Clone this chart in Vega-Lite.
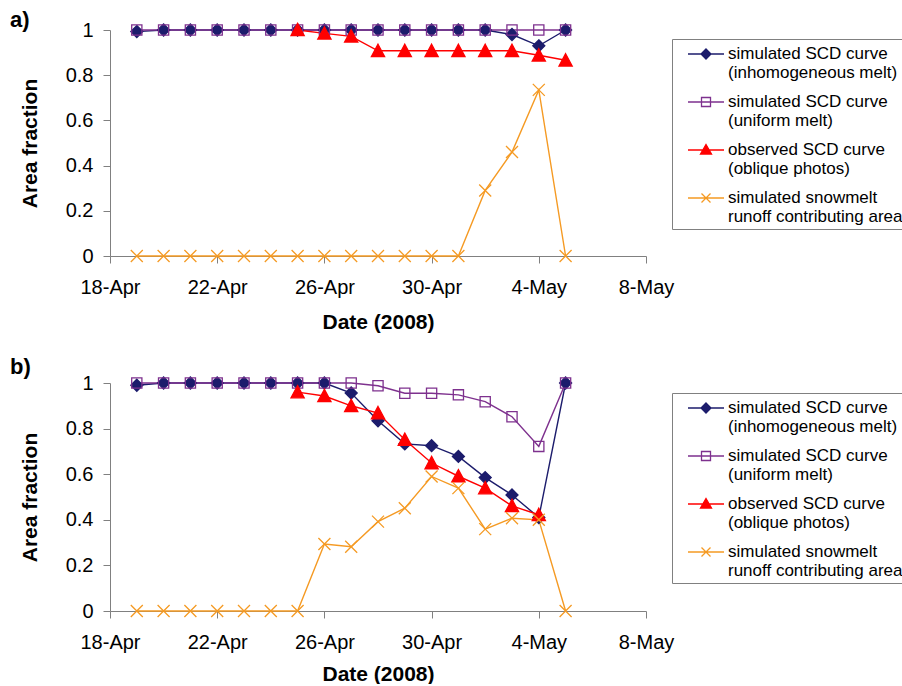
{
  "$schema": "https://vega.github.io/schema/vega-lite/v6.json",
  "padding": {"left": 10, "top": 9, "right": 0, "bottom": 0},
  "background": "white",
  "datasets": {
    "a": [
      {"date":"2008-04-19","series":"inhomogeneous","value":0.993},
      {"date":"2008-04-20","series":"inhomogeneous","value":1},
      {"date":"2008-04-21","series":"inhomogeneous","value":1},
      {"date":"2008-04-22","series":"inhomogeneous","value":1},
      {"date":"2008-04-23","series":"inhomogeneous","value":1},
      {"date":"2008-04-24","series":"inhomogeneous","value":1},
      {"date":"2008-04-25","series":"inhomogeneous","value":1},
      {"date":"2008-04-26","series":"inhomogeneous","value":1},
      {"date":"2008-04-27","series":"inhomogeneous","value":1},
      {"date":"2008-04-28","series":"inhomogeneous","value":1},
      {"date":"2008-04-29","series":"inhomogeneous","value":1},
      {"date":"2008-04-30","series":"inhomogeneous","value":1},
      {"date":"2008-05-01","series":"inhomogeneous","value":1},
      {"date":"2008-05-02","series":"inhomogeneous","value":1},
      {"date":"2008-05-03","series":"inhomogeneous","value":0.98},
      {"date":"2008-05-04","series":"inhomogeneous","value":0.93},
      {"date":"2008-05-05","series":"inhomogeneous","value":1},
      {"date":"2008-04-19","series":"uniform","value":1},
      {"date":"2008-04-20","series":"uniform","value":1},
      {"date":"2008-04-21","series":"uniform","value":1},
      {"date":"2008-04-22","series":"uniform","value":1},
      {"date":"2008-04-23","series":"uniform","value":1},
      {"date":"2008-04-24","series":"uniform","value":1},
      {"date":"2008-04-25","series":"uniform","value":1},
      {"date":"2008-04-26","series":"uniform","value":1},
      {"date":"2008-04-27","series":"uniform","value":1},
      {"date":"2008-04-28","series":"uniform","value":1},
      {"date":"2008-04-29","series":"uniform","value":1},
      {"date":"2008-04-30","series":"uniform","value":1},
      {"date":"2008-05-01","series":"uniform","value":1},
      {"date":"2008-05-02","series":"uniform","value":1},
      {"date":"2008-05-03","series":"uniform","value":1},
      {"date":"2008-05-04","series":"uniform","value":1},
      {"date":"2008-05-05","series":"uniform","value":1},
      {"date":"2008-04-25","series":"observed","value":1},
      {"date":"2008-04-26","series":"observed","value":0.985},
      {"date":"2008-04-27","series":"observed","value":0.972},
      {"date":"2008-04-28","series":"observed","value":0.908},
      {"date":"2008-04-29","series":"observed","value":0.908},
      {"date":"2008-04-30","series":"observed","value":0.908},
      {"date":"2008-05-01","series":"observed","value":0.908},
      {"date":"2008-05-02","series":"observed","value":0.908},
      {"date":"2008-05-03","series":"observed","value":0.908},
      {"date":"2008-05-04","series":"observed","value":0.888},
      {"date":"2008-05-05","series":"observed","value":0.866},
      {"date":"2008-04-19","series":"snowmelt","value":0},
      {"date":"2008-04-20","series":"snowmelt","value":0},
      {"date":"2008-04-21","series":"snowmelt","value":0},
      {"date":"2008-04-22","series":"snowmelt","value":0},
      {"date":"2008-04-23","series":"snowmelt","value":0},
      {"date":"2008-04-24","series":"snowmelt","value":0},
      {"date":"2008-04-25","series":"snowmelt","value":0},
      {"date":"2008-04-26","series":"snowmelt","value":0},
      {"date":"2008-04-27","series":"snowmelt","value":0},
      {"date":"2008-04-28","series":"snowmelt","value":0},
      {"date":"2008-04-29","series":"snowmelt","value":0},
      {"date":"2008-04-30","series":"snowmelt","value":0},
      {"date":"2008-05-01","series":"snowmelt","value":0},
      {"date":"2008-05-02","series":"snowmelt","value":0.29},
      {"date":"2008-05-03","series":"snowmelt","value":0.46},
      {"date":"2008-05-04","series":"snowmelt","value":0.735},
      {"date":"2008-05-05","series":"snowmelt","value":0}
    ],
    "b": [
      {"date":"2008-04-19","series":"inhomogeneous","value":0.99},
      {"date":"2008-04-20","series":"inhomogeneous","value":1},
      {"date":"2008-04-21","series":"inhomogeneous","value":1},
      {"date":"2008-04-22","series":"inhomogeneous","value":1},
      {"date":"2008-04-23","series":"inhomogeneous","value":1},
      {"date":"2008-04-24","series":"inhomogeneous","value":1},
      {"date":"2008-04-25","series":"inhomogeneous","value":1},
      {"date":"2008-04-26","series":"inhomogeneous","value":1},
      {"date":"2008-04-27","series":"inhomogeneous","value":0.956},
      {"date":"2008-04-28","series":"inhomogeneous","value":0.834},
      {"date":"2008-04-29","series":"inhomogeneous","value":0.733},
      {"date":"2008-04-30","series":"inhomogeneous","value":0.725},
      {"date":"2008-05-01","series":"inhomogeneous","value":0.678},
      {"date":"2008-05-02","series":"inhomogeneous","value":0.585},
      {"date":"2008-05-03","series":"inhomogeneous","value":0.509},
      {"date":"2008-05-04","series":"inhomogeneous","value":0.41},
      {"date":"2008-05-05","series":"inhomogeneous","value":1},
      {"date":"2008-04-19","series":"uniform","value":1},
      {"date":"2008-04-20","series":"uniform","value":1},
      {"date":"2008-04-21","series":"uniform","value":1},
      {"date":"2008-04-22","series":"uniform","value":1},
      {"date":"2008-04-23","series":"uniform","value":1},
      {"date":"2008-04-24","series":"uniform","value":1},
      {"date":"2008-04-25","series":"uniform","value":1},
      {"date":"2008-04-26","series":"uniform","value":1},
      {"date":"2008-04-27","series":"uniform","value":1},
      {"date":"2008-04-28","series":"uniform","value":0.988},
      {"date":"2008-04-29","series":"uniform","value":0.955},
      {"date":"2008-04-30","series":"uniform","value":0.955},
      {"date":"2008-05-01","series":"uniform","value":0.948},
      {"date":"2008-05-02","series":"uniform","value":0.918},
      {"date":"2008-05-03","series":"uniform","value":0.852},
      {"date":"2008-05-04","series":"uniform","value":0.722},
      {"date":"2008-05-05","series":"uniform","value":1},
      {"date":"2008-04-25","series":"observed","value":0.96},
      {"date":"2008-04-26","series":"observed","value":0.943},
      {"date":"2008-04-27","series":"observed","value":0.9},
      {"date":"2008-04-28","series":"observed","value":0.868},
      {"date":"2008-04-29","series":"observed","value":0.751},
      {"date":"2008-04-30","series":"observed","value":0.649},
      {"date":"2008-05-01","series":"observed","value":0.591},
      {"date":"2008-05-02","series":"observed","value":0.539},
      {"date":"2008-05-03","series":"observed","value":0.461},
      {"date":"2008-05-04","series":"observed","value":0.422},
      {"date":"2008-04-19","series":"snowmelt","value":0},
      {"date":"2008-04-20","series":"snowmelt","value":0},
      {"date":"2008-04-21","series":"snowmelt","value":0},
      {"date":"2008-04-22","series":"snowmelt","value":0},
      {"date":"2008-04-23","series":"snowmelt","value":0},
      {"date":"2008-04-24","series":"snowmelt","value":0},
      {"date":"2008-04-25","series":"snowmelt","value":0},
      {"date":"2008-04-26","series":"snowmelt","value":0.294},
      {"date":"2008-04-27","series":"snowmelt","value":0.282},
      {"date":"2008-04-28","series":"snowmelt","value":0.392},
      {"date":"2008-04-29","series":"snowmelt","value":0.451},
      {"date":"2008-04-30","series":"snowmelt","value":0.59},
      {"date":"2008-05-01","series":"snowmelt","value":0.539},
      {"date":"2008-05-02","series":"snowmelt","value":0.359},
      {"date":"2008-05-03","series":"snowmelt","value":0.407},
      {"date":"2008-05-04","series":"snowmelt","value":0.40},
      {"date":"2008-05-05","series":"snowmelt","value":0}
    ]
  },
  "vconcat": [
    {
      "width": 536,
      "height": 226,
      "data": {"name": "a"},
      "title": {"text": "a)", "anchor": "start", "frame": "group", "dx": -100, "offset": -29, "baseline": "alphabetic", "fontSize": 22, "fontWeight": "bold", "font": "Liberation Sans", "color": "#000"},
      "encoding": {
        "x": {"field": "date", "type": "temporal", "title": "Date (2008)",
          "scale": {"type": "utc", "domain": [{"year": 2008, "month": 4, "date": 18, "utc": true}, {"year": 2008, "month": 5, "date": 8, "utc": true}]},
          "axis": {"values": [{"year": 2008, "month": 4, "date": 18, "utc": true}, {"year": 2008, "month": 4, "date": 22, "utc": true}, {"year": 2008, "month": 4, "date": 26, "utc": true}, {"year": 2008, "month": 4, "date": 30, "utc": true}, {"year": 2008, "month": 5, "date": 4, "utc": true}, {"year": 2008, "month": 5, "date": 8, "utc": true}],
            "labelExpr": "utcFormat(datum.value, '%-d-%b')", "labelFlush": false, "labelOverlap": false, "labelPadding": 14, "titlePadding": 14}},
        "y": {"field": "value", "type": "quantitative", "title": "Area fraction",
          "scale": {"domain": [0, 1], "nice": false, "zero": true},
          "axis": {"values": [0, 0.2, 0.4, 0.6, 0.8, 1], "format": ".1~f", "labelPadding": 10, "titlePadding": 25}}
      },
      "layer": [
        {"mark": {"type": "line", "strokeWidth": 1.4},
          "encoding": {"color": {"field": "series", "type": "nominal", "legend": null, "scale": {"domain": ["inhomogeneous", "uniform", "observed", "snowmelt"], "range": ["#1c1c6c", "#7e318e", "#ff0000", "#f59a23"]}}}},
        {"mark": {"type": "point", "filled": false, "size": 144, "strokeWidth": 1.3, "opacity": 1},
          "encoding": {
            "color": {"field": "series", "type": "nominal", "legend": null, "scale": {"domain": ["inhomogeneous", "uniform", "observed", "snowmelt"], "range": ["#1c1c6c", "#7e318e", "#ff0000", "#f59a23"]}},
            "fill": {"field": "series", "type": "nominal", "legend": null, "scale": {"domain": ["inhomogeneous", "uniform", "observed", "snowmelt"], "range": ["#1c1c6c", "transparent", "#ff0000", "transparent"]}},
            "shape": {"field": "series", "type": "nominal", "legend": null,
              "scale": {"domain": ["inhomogeneous", "uniform", "observed", "snowmelt"], "range": ["M0,-1L1,0L0,1L-1,0Z", "M-0.85,-0.85H0.85V0.85H-0.85Z", "M0,-1.1L1.1,0.95H-1.1Z", "M-1,-1L1,1M-1,1L1,-1"]}}
          }},
        {"transform": [{"filter": "false"}],
          "mark": {"type": "point", "filled": false, "strokeWidth": 1.3, "opacity": 1},
          "encoding": {
            "color": {"field": "series", "type": "nominal", "scale": {"domain": ["inhomogeneous", "uniform", "observed", "snowmelt"], "range": ["#1c1c6c", "#7e318e", "#ff0000", "#f59a23"]}},
            "fill": {"field": "series", "type": "nominal", "scale": {"domain": ["inhomogeneous", "uniform", "observed", "snowmelt"], "range": ["#1c1c6c", "transparent", "#ff0000", "transparent"]}},
            "shape": {"field": "series", "type": "nominal",
              "scale": {"domain": ["inhomogeneous", "uniform", "observed", "snowmelt"], "range": ["M-1.8,0H1.8M0,-0.5L0.5,0L0,0.5L-0.5,0Z", "M-1.8,0H1.8M-0.45,-0.45H0.45V0.45H-0.45Z", "M-1.8,0H1.8M0,-0.55L0.55,0.4H-0.55Z", "M-1.8,0H1.8M-0.45,-0.45L0.45,0.45M-0.45,0.45L0.45,-0.45"]},
              "legend": {"legendY": 9,
                "labelExpr": "datum.label == 'inhomogeneous' ? ['simulated SCD curve', '(inhomogeneous melt)'] : datum.label == 'uniform' ? ['simulated SCD curve', '(uniform melt)'] : datum.label == 'observed' ? ['observed SCD curve', '(oblique photos)'] : ['simulated snowmelt', 'runoff contributing area']"}}
          }}
      ],
      "resolve": {"scale": {"color": "independent", "fill": "independent", "shape": "independent"}}
    },
    {
      "width": 536,
      "height": 228,
      "data": {"name": "b"},
      "title": {"text": "b)", "anchor": "start", "frame": "group", "dx": -100, "offset": -23, "baseline": "alphabetic", "fontSize": 22, "fontWeight": "bold", "font": "Liberation Sans", "color": "#000"},
      "encoding": {
        "x": {"field": "date", "type": "temporal", "title": "Date (2008)",
          "scale": {"type": "utc", "domain": [{"year": 2008, "month": 4, "date": 18, "utc": true}, {"year": 2008, "month": 5, "date": 8, "utc": true}]},
          "axis": {"values": [{"year": 2008, "month": 4, "date": 18, "utc": true}, {"year": 2008, "month": 4, "date": 22, "utc": true}, {"year": 2008, "month": 4, "date": 26, "utc": true}, {"year": 2008, "month": 4, "date": 30, "utc": true}, {"year": 2008, "month": 5, "date": 4, "utc": true}, {"year": 2008, "month": 5, "date": 8, "utc": true}],
            "labelExpr": "utcFormat(datum.value, '%-d-%b')", "labelFlush": false, "labelOverlap": false, "labelPadding": 14, "titlePadding": 11}},
        "y": {"field": "value", "type": "quantitative", "title": "Area fraction",
          "scale": {"domain": [0, 1], "nice": false, "zero": true},
          "axis": {"values": [0, 0.2, 0.4, 0.6, 0.8, 1], "format": ".1~f", "labelPadding": 10, "titlePadding": 25}}
      },
      "layer": [
        {"mark": {"type": "line", "strokeWidth": 1.4},
          "encoding": {"color": {"field": "series", "type": "nominal", "legend": null, "scale": {"domain": ["inhomogeneous", "uniform", "observed", "snowmelt"], "range": ["#1c1c6c", "#7e318e", "#ff0000", "#f59a23"]}}}},
        {"mark": {"type": "point", "filled": false, "size": 144, "strokeWidth": 1.3, "opacity": 1},
          "encoding": {
            "color": {"field": "series", "type": "nominal", "legend": null, "scale": {"domain": ["inhomogeneous", "uniform", "observed", "snowmelt"], "range": ["#1c1c6c", "#7e318e", "#ff0000", "#f59a23"]}},
            "fill": {"field": "series", "type": "nominal", "legend": null, "scale": {"domain": ["inhomogeneous", "uniform", "observed", "snowmelt"], "range": ["#1c1c6c", "transparent", "#ff0000", "transparent"]}},
            "shape": {"field": "series", "type": "nominal", "legend": null,
              "scale": {"domain": ["inhomogeneous", "uniform", "observed", "snowmelt"], "range": ["M0,-1L1,0L0,1L-1,0Z", "M-0.85,-0.85H0.85V0.85H-0.85Z", "M0,-1.1L1.1,0.95H-1.1Z", "M-1,-1L1,1M-1,1L1,-1"]}}
          }},
        {"transform": [{"filter": "false"}],
          "mark": {"type": "point", "filled": false, "strokeWidth": 1.3, "opacity": 1},
          "encoding": {
            "color": {"field": "series", "type": "nominal", "scale": {"domain": ["inhomogeneous", "uniform", "observed", "snowmelt"], "range": ["#1c1c6c", "#7e318e", "#ff0000", "#f59a23"]}},
            "fill": {"field": "series", "type": "nominal", "scale": {"domain": ["inhomogeneous", "uniform", "observed", "snowmelt"], "range": ["#1c1c6c", "transparent", "#ff0000", "transparent"]}},
            "shape": {"field": "series", "type": "nominal",
              "scale": {"domain": ["inhomogeneous", "uniform", "observed", "snowmelt"], "range": ["M-1.8,0H1.8M0,-0.5L0.5,0L0,0.5L-0.5,0Z", "M-1.8,0H1.8M-0.45,-0.45H0.45V0.45H-0.45Z", "M-1.8,0H1.8M0,-0.55L0.55,0.4H-0.55Z", "M-1.8,0H1.8M-0.45,-0.45L0.45,0.45M-0.45,0.45L0.45,-0.45"]},
              "legend": {"legendY": 10,
                "labelExpr": "datum.label == 'inhomogeneous' ? ['simulated SCD curve', '(inhomogeneous melt)'] : datum.label == 'uniform' ? ['simulated SCD curve', '(uniform melt)'] : datum.label == 'observed' ? ['observed SCD curve', '(oblique photos)'] : ['simulated snowmelt', 'runoff contributing area']"}}
          }}
      ],
      "resolve": {"scale": {"color": "independent", "fill": "independent", "shape": "independent"}}
    }
  ],
  "spacing": 24,
  "resolve": {
    "scale": {"color": "independent", "fill": "independent", "shape": "independent"},
    "legend": {"color": "independent", "fill": "independent", "shape": "independent"}
  },
  "config": {
    "view": {"stroke": null},
    "font": "Liberation Sans",
    "axis": {"grid": false, "domainColor": "#808080", "tickColor": "#808080", "tickSize": 7, "domainWidth": 1, "tickWidth": 1,
      "labelFont": "Liberation Sans", "labelFontSize": 20, "labelColor": "#000",
      "titleFont": "Liberation Sans", "titleFontSize": 21, "titleFontWeight": "bold", "titleColor": "#000"},
    "legend": {"orient": "none", "legendX": 562, "title": null,
      "labelFont": "Liberation Sans", "labelFontSize": 17, "labelColor": "#000", "labelLimit": 400,
      "labelBaseline": "middle", "labelOffset": 11,
      "strokeColor": "#808080", "fillColor": "#ffffff", "padding": 4,
      "symbolSize": 400, "symbolOffset": 19, "symbolStrokeWidth": 1.3, "symbolOpacity": 1, "rowPadding": 10}
  }
}
